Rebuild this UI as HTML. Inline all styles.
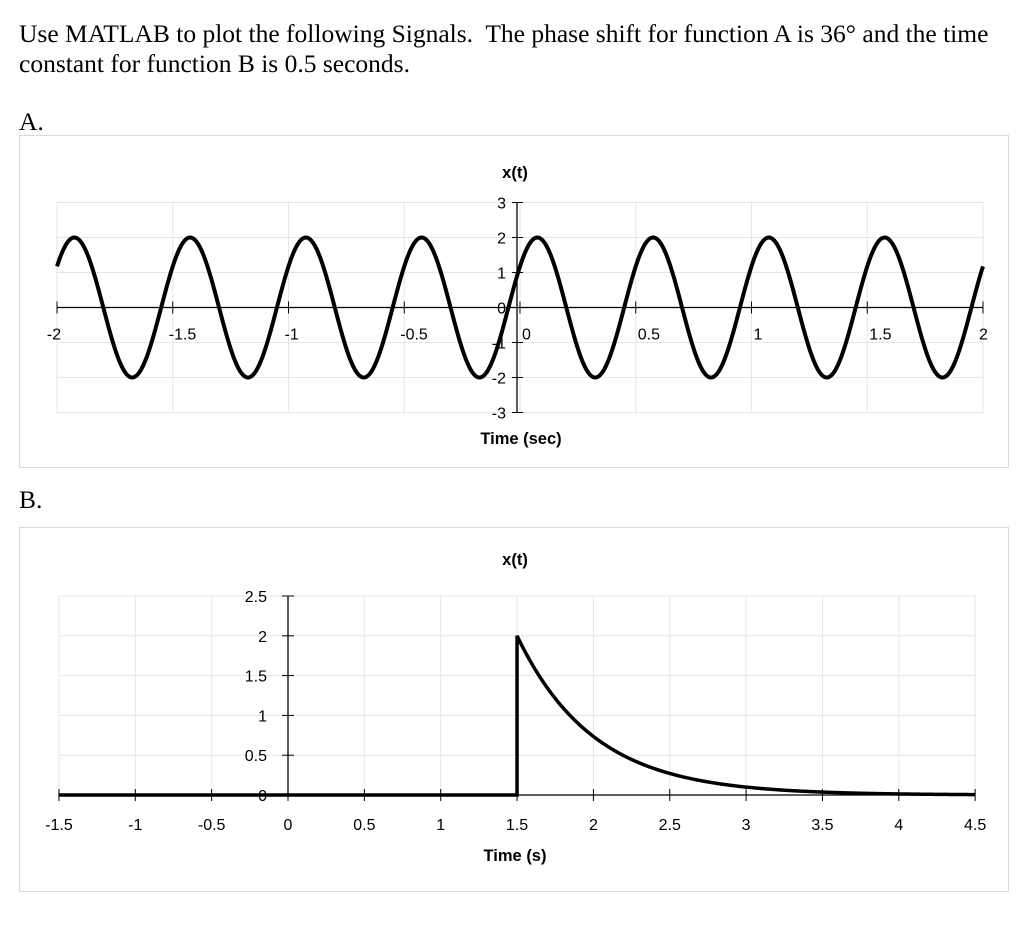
<!DOCTYPE html>
<html><head><meta charset="utf-8"><style>
body{margin:0;width:1024px;height:949px;background:#fff;overflow:hidden}
svg{position:absolute;left:0;top:0}
.t{font-family:"Liberation Serif",serif;font-size:25.5px;fill:#000}
.l{font-family:"Liberation Sans",sans-serif;font-size:16px;fill:#000}
.b{font-family:"Liberation Sans",sans-serif;font-size:16.5px;font-weight:bold;fill:#000}
</style></head><body>
<svg width="1024" height="949">
<text class="t" x="19" y="42">Use MATLAB to plot the following Signals.&#160; The phase shift for function A is 36° and the time</text>
<text class="t" x="19" y="72">constant for function B is 0.5 seconds.</text>
<text class="t" x="19" y="130">A.</text>
<text class="t" x="19" y="508">B.</text>
<rect x="19.5" y="135.5" width="989" height="332" fill="none" stroke="#d9d9d9"/>
<rect x="19.5" y="527.5" width="989" height="364" fill="none" stroke="#d9d9d9"/>
<g id="ga"></g><g id="gb"></g>
</svg>
<script>
const aXTicks=[-2,-1.5,-1,-0.5,0,0.5,1,1.5,2];
const aYTicks=[-3,-2,-1,0,1,2,3];
const aAmp=[2];const aFreqHz=[2];const aPhaseDeg=[36];
const bXTicks=[-1.5,-1,-0.5,0,0.5,1,1.5,2,2.5,3,3.5,4,4.5];
const bYTicks=[0,0.5,1,1.5,2,2.5];
const bAmp=[2];const bStart=[1.5];const bTau=[0.5];
const NS='http://www.w3.org/2000/svg';
function mk(p,tag,at,txt){const e=document.createElementNS(NS,tag);for(const k in at)e.setAttribute(k,at[k]);if(txt!==undefined)e.textContent=txt;p.appendChild(e);return e;}
// Chart A
(function(){
const g=document.getElementById('ga');
const X=t=>520+(t)*231.5, Y=v=>307.5-v*35;
aYTicks.forEach(v=>{const e=mk(g,'line',{x1:X(-2),x2:X(2),y1:Y(v),y2:Y(v),stroke:'#e6e6e6'});

});
aXTicks.forEach(v=>{const e=mk(g,'line',{x1:X(v),x2:X(v),y1:Y(3),y2:Y(-3),stroke:'#e6e6e6'});

});
let e=mk(g,'line',{x1:X(-2),x2:X(2),y1:Y(0),y2:Y(0),stroke:'#000','stroke-width':1.3});


e=mk(g,'line',{x1:517,x2:517,y1:Y(3),y2:Y(-3),stroke:'#000','stroke-width':1.3});


aXTicks.forEach(v=>{mk(g,'line',{x1:X(v),x2:X(v),y1:Y(0)-6,y2:Y(0)+6,stroke:'#000'});
const t=mk(g,'text',{class:'l',x:X(v)+(v==-2?-3:v==2?-4:v<0?-4:2),y:Y(0)+32,'text-anchor':v==-2?'middle':'start'},String(v));

});
aYTicks.forEach(v=>{mk(g,'line',{x1:512,x2:523,y1:Y(v),y2:Y(v),stroke:'#000'});
const t=mk(g,'text',{class:'l',x:506,y:Y(v)+6,'text-anchor':'end'},String(v));

});
let d='';for(let i=0;i<=800;i++){const t=-2+4*i/800;const v=aAmp[0]*Math.sin(2*Math.PI*aFreqHz[0]*t+aPhaseDeg[0]*Math.PI/180);d+=(i?'L':'M')+X(t).toFixed(2)+' '+Y(v).toFixed(2);}
e=mk(g,'path',{d:d,fill:'none',stroke:'#000','stroke-width':4,'stroke-linejoin':'round'});


e=mk(g,'text',{class:'b',x:515,y:178,'text-anchor':'middle'},'x(t)');


e=mk(g,'text',{class:'b',x:521,y:444,'text-anchor':'middle'},'Time (sec)');


})();
// Chart B
(function(){
const g=document.getElementById('gb');
const X=t=>288+t*152.7, Y=v=>795-v*79.6;
bYTicks.forEach(v=>{const e=mk(g,'line',{x1:X(-1.5),x2:X(4.5),y1:Y(v),y2:Y(v),stroke:'#e6e6e6'});

});
bXTicks.forEach(v=>{const e=mk(g,'line',{x1:X(v),x2:X(v),y1:Y(2.5),y2:Y(0),stroke:'#e6e6e6'});

});
let e=mk(g,'line',{x1:X(0),x2:X(0),y1:Y(2.5),y2:Y(0),stroke:'#000','stroke-width':1.3});


e=mk(g,'line',{x1:X(-1.5),x2:X(4.5),y1:Y(0),y2:Y(0),stroke:'#000','stroke-width':1.3});


bXTicks.forEach(v=>{mk(g,'line',{x1:X(v),x2:X(v),y1:Y(0)-6,y2:Y(0)+6,stroke:'#000'});
const t=mk(g,'text',{class:'l',x:X(v),y:Y(0)+35,'text-anchor':'middle'},String(v));

});
bYTicks.forEach(v=>{mk(g,'line',{x1:X(0)-6,x2:X(0)+6,y1:Y(v),y2:Y(v),stroke:'#000'});
const t=mk(g,'text',{class:'l',x:X(0)-21,y:Y(v)+6,'text-anchor':'end'},String(v));

});
let d='M'+X(-1.5)+' '+Y(0)+'L'+X(bStart[0])+' '+Y(0);
for(let i=0;i<=400;i++){const t=bStart[0]+(4.5-bStart[0])*i/400;const v=bAmp[0]*Math.exp(-(t-bStart[0])/bTau[0]);d+='L'+X(t).toFixed(2)+' '+Y(v).toFixed(2);}
e=mk(g,'path',{d:d,fill:'none',stroke:'#000','stroke-width':3.5,'stroke-linejoin':'miter'});


e=mk(g,'text',{class:'b',x:515,y:565,'text-anchor':'middle'},'x(t)');


e=mk(g,'text',{class:'b',x:515,y:861,'text-anchor':'middle'},'Time (s)');


})();
</script>
</body></html>
